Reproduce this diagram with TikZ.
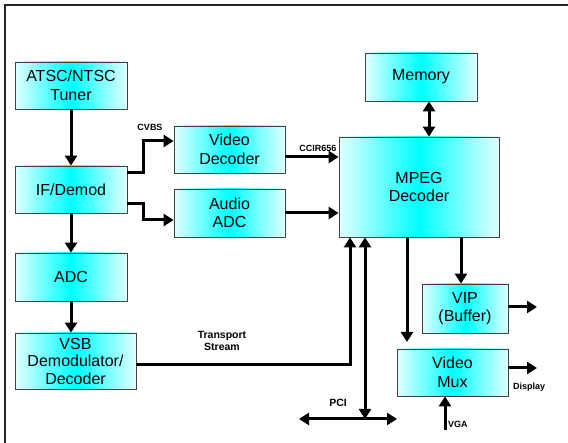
\documentclass[tikz,border=0pt]{standalone}
\usepackage{fontspec}
\setmainfont{Liberation Sans}
\usetikzlibrary{arrows.meta}
\begin{document}
\begin{tikzpicture}[x=1pt,y=-1pt,
  blk/.style={draw=black!75,line width=0.8pt,left color=cyan!12,right color=cyan!12,middle color=cyan,
    font=\fontsize{16}{18.5}\selectfont,align=center,inner sep=0pt},
  conn/.style={line width=3pt,-{Triangle[length=10pt,width=12pt]}},
  dconn/.style={line width=3pt,{Triangle[length=10pt,width=12pt]}-{Triangle[length=10pt,width=12pt]}},
  lbl/.style={font=\bfseries\fontsize{9}{10}\selectfont,align=center,inner sep=0pt}]
\useasboundingbox (0,0) rectangle (568,443);
\draw[line width=1.2pt,black!85] (5,443) -- (5,5) -- (568,5);
% boxes
\node[blk,minimum width=112pt,minimum height=47pt] (tuner) at (71,85.5) {ATSC/NTSC\\Tuner};
\node[blk,minimum width=112pt,minimum height=47pt] (ifd) at (71,189.5) {IF/Demod};
\node[blk,minimum width=111pt,minimum height=47pt] (vdec) at (229.5,149.5) {Video\\Decoder};
\node[blk,minimum width=111pt,minimum height=48pt] (aadc) at (229.5,213) {Audio\\ADC};
\node[blk,minimum width=112pt,minimum height=48pt] (adc) at (71,277) {ADC};
\node[blk,minimum width=121pt,minimum height=56pt,font=\fontsize{16}{17.5}\selectfont] (vsb) at (75.5,361) {VSB\\Demodulator/\\Decoder};
\node[blk,minimum width=112pt,minimum height=48pt] (mem) at (421,77) {Memory};
\node[blk,minimum width=160pt,minimum height=100pt] (mpeg) at (419,187) {MPEG\\Decoder};
\node[blk,minimum width=86pt,minimum height=49pt] (vip) at (465,308.5) {VIP\\(Buffer)};
\node[blk,minimum width=111pt,minimum height=47pt] (vmux) at (452.5,372.5) {Video\\Mux};
% coordinates
\coordinate (pcib) at (365,419);
\coordinate (pcil) at (299,419);
\coordinate (pcir) at (397,419);
\coordinate (vipo) at (537,307);
\coordinate (muxo) at (537,368);
\coordinate (vgai) at (445,430);
\coordinate (muxin) at (407,342);
% connectors
\draw[conn] (tuner.south) -- (ifd.north);
\draw[conn] (ifd.south) -- (adc.north);
\draw[conn] (adc.south) -- (vsb.north -| adc.south);
\draw[conn] (ifd.east |- 0,173) -- (143,173) -- (143,141) -- (vdec.west |- 0,141);
\draw[conn] (ifd.east |- 0,204) -- (143,204) -- (143,220) -- (aadc.west |- 0,220);
\draw[conn] (vdec.east |- 0,157) -- (mpeg.west |- 0,157);
\draw[conn] (aadc.east |- 0,213) -- (mpeg.west |- 0,213);
\draw[conn] (vsb.east |- 0,365) -- (350,365) -- (mpeg.south -| 350,0);
\draw[dconn] (mem.south -| 429,0) -- (mpeg.north -| 429,0);
\draw[dconn] (mpeg.south -| pcib) -- (pcib);
\draw[dconn] (pcil) -- (pcir);
\draw[conn] (mpeg.south -| muxin) -- (muxin);
\draw[conn] (mpeg.south -| 461,0) -- (vip.north -| 461,0);
\draw[conn] (vip.east |- vipo) -- (vipo);
\draw[conn] (vmux.east |- muxo) -- (muxo);
\draw[conn] (vgai) -- (vmux.south -| vgai);
% labels
\node[lbl] at (150,127) {CVBS};
\node[lbl] at (318,148) {CCIR656};
\node[lbl,font=\bfseries\fontsize{10.5}{12}\selectfont] at (222,341) {Transport\\Stream};
\node[lbl,font=\bfseries\fontsize{10.5}{12}\selectfont] at (338,403) {PCI};
\node[lbl,anchor=west] at (513,387) {Display};
\node[lbl,anchor=west] at (448,424) {VGA};
\end{tikzpicture}
\end{document}
